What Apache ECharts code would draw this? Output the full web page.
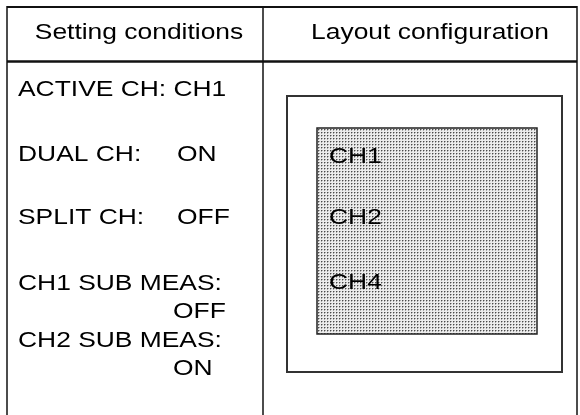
<!DOCTYPE html>
<html><head><meta charset="utf-8">
<script src="https://cdn.jsdelivr.net/npm/echarts@6/dist/echarts.min.js"></script>
<style>html,body{margin:0;padding:0;background:#fff}#c{width:580px;height:415px}</style>
</head><body><div id="c"></div>
<script>
// Table content
var headers = ['Setting conditions', 'Layout configuration'];
var conditionLabels = ['ACTIVE CH:', 'DUAL CH:', 'SPLIT CH:', 'CH1 SUB MEAS:', 'CH2 SUB MEAS:'];
var conditionValues = ['CH1', 'ON', 'OFF', 'OFF', 'ON'];
var layoutChannels = ['CH1', 'CH2', 'CH4'];

var FONT = '22px "Liberation Sans", Arial, sans-serif';
var SX = 1.2;

function makePattern() {
  var c = document.createElement('canvas');
  c.width = 3; c.height = 3;
  var g = c.getContext('2d');
  g.fillStyle = '#ececec'; g.fillRect(0, 0, 3, 3);
  g.fillStyle = '#a8a8a8'; g.fillRect(1, 0, 1, 1); g.fillRect(0, 1, 1, 1);
  g.fillStyle = '#4a4a4a'; g.fillRect(0, 0, 1, 1);
  return c;
}

function txt(s, x, y, align) {
  return {
    type: 'text', x: x, y: y, scaleX: SX,
    style: { text: s, font: FONT, fill: '#000', textAlign: align || 'left', textVerticalAlign: 'middle', align: align || 'left', verticalAlign: 'middle' }
  };
}
function line(x1, y1, x2, y2, w) {
  return { type: 'line', shape: { x1: x1, y1: y1, x2: x2, y2: y2 }, style: { stroke: '#111', lineWidth: w } };
}

var els = [];
// table frame
els.push(line(7, 7, 577, 7, 2));
els.push(line(7, 61.5, 577, 61.5, 2.5));
els.push(line(7, 6, 7, 415, 1.5));
els.push(line(263, 6, 263, 415, 1.5));
els.push(line(577, 6, 577, 415, 1.5));
// headers
els.push(txt(headers[0], 139, 33, 'center'));
els.push(txt(headers[1], 430, 33, 'center'));
// conditions
var rowY = [90, 155, 218, 284, 341];
var valX = [null, 177, 177, 173, 173];
var valY = [90, 155, 218, 312, 369];
conditionLabels.forEach(function (l, i) {
  if (i === 0) {
    els.push(txt(l + ' ' + conditionValues[i], 18, rowY[i]));
  } else {
    els.push(txt(l, 18, rowY[i]));
    els.push(txt(conditionValues[i], valX[i], valY[i]));
  }
});
// layout
els.push({ type: 'rect', shape: { x: 287, y: 96, width: 275, height: 276 }, style: { fill: '#fff', stroke: '#333', lineWidth: 2 } });
els.push({ type: 'rect', shape: { x: 317, y: 128, width: 220, height: 206 }, style: { fill: { image: makePattern(), repeat: 'repeat' }, stroke: '#222', lineWidth: 1.5 } });
var chY = [157, 218, 283];
layoutChannels.forEach(function (c, i) { els.push(txt(c, 329, chY[i])); });

var chart = echarts.init(document.getElementById('c'), null, { renderer: 'canvas' });
chart.setOption({ animation: false, backgroundColor: '#fff', graphic: { elements: els } });
</script></body></html>
